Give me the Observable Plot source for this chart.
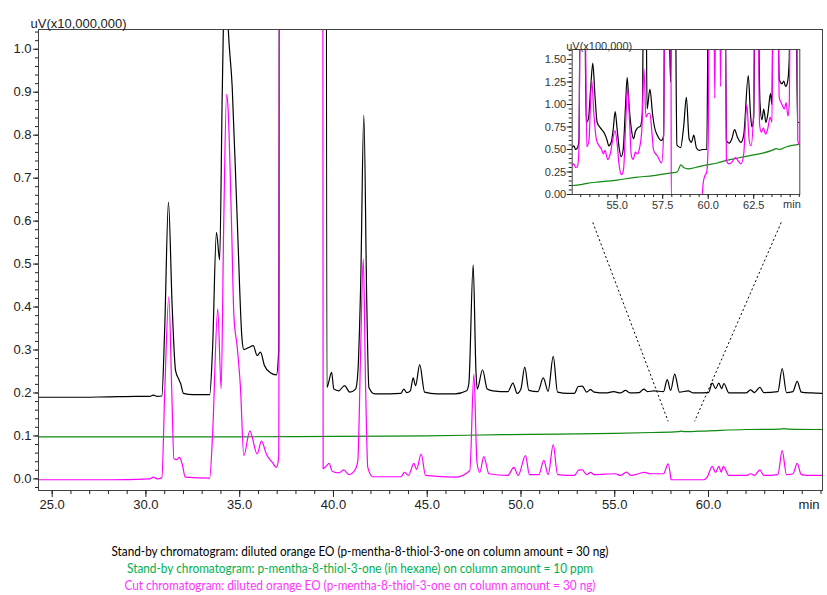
<!DOCTYPE html>
<html>
<head>
<meta charset="utf-8">
<script src="https://cdn.jsdelivr.net/npm/d3@7"></script>
<script src="https://cdn.jsdelivr.net/npm/@observablehq/plot@0.6"></script>
<style>
  html, body { margin: 0; padding: 0; background: #fff; }
  #wrap { position: relative; width: 827px; height: 595px; overflow: hidden; }
  #main { position: absolute; left: 0; top: 0; }
  #inset { position: absolute; left: 530px; top: 30px; }
  #legend { position: absolute; left: 0; top: 512px; }
</style>
</head>
<body>
<div id="wrap"><div id="main"></div><div id="inset"></div><div id="legend"></div></div>
<script>
// ---------- DATA (retention time [min], signal) ----------
// Main chart, signal in uV x 10,000,000
const standbyEO = [
  [24.27,0.190],[26,0.190],[28,0.191],[29.5,0.192],[30.2,0.192],[30.4,0.195],[30.6,0.192],[30.85,0.193],
  [31.0,0.35],[31.2,0.644],[31.4,0.40],[31.58,0.252],[31.75,0.232],[31.85,0.222],[32.0,0.199],[32.5,0.196],
  [33.4,0.196],[33.55,0.30],[33.76,0.574],[33.93,0.51],[34.07,0.9],[34.25,1.25],[34.36,1.08],[34.6,0.912],
  [34.87,0.601],[35.13,0.322],[35.22,0.301],[35.49,0.306],[35.72,0.31],[35.93,0.287],[36.11,0.295],[36.32,0.264],
  [36.64,0.247],[36.96,0.242],[37.08,0.30],[37.2,5],[39.55,5],[39.65,0.213],[39.9,0.248],[40.02,0.209],
  [40.28,0.205],[40.59,0.217],[40.87,0.202],[41.18,0.209],[41.3,0.247],[41.45,0.45],[41.62,0.847],[41.78,0.40],
  [41.89,0.213],[42.2,0.198],[43.0,0.198],[43.6,0.199],[43.75,0.209],[43.9,0.201],[44.1,0.205],[44.25,0.235],
  [44.38,0.217],[44.6,0.266],[44.86,0.202],[45.5,0.198],[46.5,0.198],[47.1,0.205],[47.22,0.222],[47.45,0.498],
  [47.6,0.25],[47.67,0.209],[47.95,0.254],[48.2,0.209],[48.5,0.205],[49.3,0.203],[49.57,0.223],[49.8,0.199],
  [50.0,0.21],[50.2,0.26],[50.42,0.206],[50.9,0.203],[51.19,0.235],[51.45,0.204],[51.72,0.285],[51.95,0.202],
  [52.5,0.199],[52.85,0.199],[53.05,0.215],[53.27,0.216],[53.5,0.202],[53.71,0.208],[53.9,0.202],[54.5,0.200],
  [54.95,0.203],[55.3,0.2],[55.58,0.206],[55.8,0.2],[56.3,0.201],[56.55,0.209],[56.75,0.203],[57.09,0.205],
  [57.6,0.203],[57.8,0.231],[57.98,0.206],[58.2,0.244],[58.45,0.202],[58.92,0.205],[59.2,0.2],[60.0,0.201],
  [60.2,0.223],[60.38,0.21],[60.55,0.223],[60.7,0.21],[60.82,0.222],[61.09,0.2],[62.0,0.2],[62.24,0.207],
  [62.45,0.201],[62.74,0.213],[62.95,0.201],[63.7,0.203],[63.93,0.257],[64.16,0.201],[64.5,0.203],[64.73,0.227],
  [64.95,0.202],[65.5,0.2],[66.08,0.199]
];
const standbyStd = [
  [24.27,0.098],[30,0.098],[35,0.098],[40,0.099],[45,0.100],[49,0.103],[52,0.104],[55,0.106],[57,0.108],
  [58.4,0.110],[58.55,0.111],[58.7,0.110],[60,0.112],[62,0.115],[63.8,0.116],[64,0.117],[64.3,0.116],[66.08,0.115]
];
const cutEO = [
  [24.27,-0.002],[28,-0.002],[30.2,0.0],[30.4,0.004],[30.6,0.0],[30.85,0.003],[31.0,0.2],[31.22,0.424],
  [31.38,0.2],[31.49,0.047],[31.65,0.045],[31.79,0.05],[31.93,0.035],[32.1,0.004],[33.4,0.002],[33.55,0.1],
  [33.83,0.396],[34.01,0.21],[34.15,0.6],[34.3,0.895],[34.37,0.869],[34.56,0.601],[34.69,0.38],[34.87,0.306],
  [35.04,0.213],[35.22,0.054],[35.54,0.112],[35.93,0.058],[36.16,0.088],[36.43,0.057],[36.73,0.039],[36.96,0.027],
  [37.08,0.05],[37.2,5],[39.38,5],[39.45,0.024],[39.62,0.03],[39.77,0.036],[39.93,0.018],[40.29,0.014],
  [40.55,0.021],[40.82,0.01],[41.18,0.023],[41.3,0.043],[41.45,0.3],[41.59,0.512],[41.72,0.2],[41.83,0.027],
  [42.1,0.005],[43.6,0.005],[43.79,0.015],[44.0,0.008],[44.29,0.036],[44.43,0.022],[44.68,0.058],[44.91,0.008],
  [46.5,0.004],[47.27,0.019],[47.49,0.244],[47.65,0.04],[47.8,0.015],[48.02,0.052],[48.29,0.012],[49.3,0.008],
  [49.62,0.027],[49.85,0.008],[50.24,0.054],[50.45,0.01],[50.95,0.01],[51.22,0.043],[51.45,0.01],[51.72,0.08],
  [51.95,0.01],[52.85,0.008],[53.09,0.021],[53.27,0.021],[53.5,0.01],[53.71,0.015],[53.9,0.01],[55.04,0.012],
  [55.3,0.008],[55.63,0.016],[55.85,0.008],[56.59,0.015],[56.9,0.012],[57.6,0.012],[57.85,0.035],[57.98,0.005],
  [58.0,-0.002],[59.75,-0.002],[59.93,0.004],[60.2,0.029],[60.38,0.015],[60.55,0.029],[60.68,0.016],[60.79,0.029],
  [61.09,0.008],[62.05,0.008],[62.24,0.012],[62.45,0.008],[62.74,0.021],[62.95,0.008],[63.7,0.01],[63.93,0.066],
  [64.16,0.01],[64.5,0.012],[64.73,0.036],[64.95,0.01],[65.5,0.008],[66.08,0.008]
];
// Inset, signal in uV x 100,000
const insetEO = [
  [52.5,0.52],[52.62,0.54],[52.72,0.50],[52.82,0.52],[52.9,0.6],[52.98,2.5],[53.2,2.5],[53.3,0.80],[53.42,0.84],
  [53.55,1.2],[53.66,1.46],[53.78,1.1],[53.9,0.80],[54.08,0.74],[54.3,0.68],[54.45,0.6],[54.54,0.54],[54.67,0.58],
  [54.78,0.72],[54.89,0.92],[55.0,0.72],[55.12,0.50],[55.22,0.42],[55.33,0.5],[55.45,0.95],[55.55,1.30],[55.65,1.0],
  [55.77,0.74],[55.9,0.62],[56.0,0.70],[56.12,0.74],[56.28,0.76],[56.38,0.9],[56.46,2.5],[56.58,2.5],[56.64,0.95],
  [56.8,1.17],[56.94,0.9],[57.05,0.75],[57.2,0.66],[57.42,0.6],[57.55,0.65],[57.62,2.5],[57.8,2.5],[57.93,1.25],
  [58.02,2.5],[58.18,2.5],[58.28,0.55],[58.48,0.52],[58.65,0.75],[58.8,1.08],[58.95,0.62],[59.08,0.58],[59.21,0.66],
  [59.35,0.52],[59.5,0.49],[59.7,0.5],[59.92,0.5],[60.02,2.5],[60.92,2.5],[61.0,0.6],[61.15,0.57],[61.3,0.62],
  [61.45,0.72],[61.6,0.64],[61.8,0.58],[61.95,0.66],[62.2,1.32],[62.32,0.9],[62.4,0.75],[62.5,0.86],[62.58,2.5],
  [62.72,2.5],[62.84,1.03],[62.95,0.83],[63.05,0.95],[63.17,0.8],[63.28,0.9],[63.42,1.12],[63.5,1.0],[63.57,2.5],
  [63.8,2.5],[63.9,1.28],[64.05,1.23],[64.15,1.26],[64.25,1.2],[64.35,1.24],[64.45,1.5],[64.5,2.5],[64.82,2.5],
  [64.9,0.8],[65.05,0.8]
];
const insetStd = [
  [52.5,0.10],[53,0.11],[53.35,0.124],[54,0.14],[55,0.16],[56,0.19],[57,0.21],[57.97,0.24],[58.3,0.25],[58.5,0.33],
  [58.65,0.30],[58.9,0.285],[59.3,0.30],[59.94,0.33],[60.5,0.35],[61,0.38],[61.5,0.40],[62,0.42],[62.5,0.44],
  [63,0.46],[63.5,0.49],[63.75,0.51],[63.9,0.50],[64.3,0.53],[65.05,0.56]
];
const insetCut = [
  [52.5,0.32],[52.62,0.34],[52.72,0.30],[52.82,0.31],[52.9,0.5],[52.98,2.5],[53.22,2.5],[53.33,0.53],[53.45,0.6],
  [53.6,1.27],[53.72,0.9],[53.85,0.62],[53.95,0.56],[54.12,0.51],[54.25,0.45],[54.33,0.49],[54.48,0.39],[54.62,0.45],
  [54.75,0.6],[54.88,0.71],[55.0,0.56],[55.1,0.34],[55.24,0.22],[55.35,0.28],[55.47,0.8],[55.57,1.19],[55.67,0.86],
  [55.78,0.43],[55.88,0.39],[56.0,0.47],[56.12,0.45],[56.22,0.51],[56.35,0.71],[56.47,1.4],[56.58,0.86],[56.7,0.9],
  [56.8,0.9],[56.9,0.71],[57.0,0.49],[57.2,0.43],[57.44,0.35],[57.55,0.67],[57.62,2.5],[57.88,2.5],[57.96,1.25],
  [57.97,0],[59.67,0],[59.72,0.12],[59.8,0.2],[59.92,0.25],[60.0,0.6],[60.06,2.5],[60.3,2.5],[60.36,1.07],[60.42,2.5],
  [60.62,2.5],[60.68,1.2],[60.74,2.5],[60.92,2.5],[61.0,0.37],[61.15,0.34],[61.3,0.36],[61.5,0.41],[61.62,0.38],
  [61.8,0.34],[61.95,0.45],[62.12,1.0],[62.25,0.6],[62.35,0.54],[62.48,0.85],[62.58,2.5],[62.72,2.5],[62.82,0.78],
  [62.92,0.69],[63.03,0.74],[63.15,0.67],[63.27,0.73],[63.4,0.86],[63.5,0.8],[63.57,2.5],[63.82,2.5],[63.9,1.08],
  [64.05,1.0],[64.18,0.95],[64.28,1.02],[64.38,0.87],[64.45,1.0],[64.52,2.5],[64.85,2.5],[64.92,0.6],[65.05,0.53]
];
// zoom guide lines (main-chart data units)
const zoomGuides = [
  {x1: 53.83, y1: 0.597, x2: 57.85, y2: 0.134},
  {x1: 63.88, y1: 0.597, x2: 59.26, y2: 0.134}
];
// ticks and labels
const mainXTicks = [25, 30, 35, 40, 45, 50, 55, 60];
const mainXMinor = d3.range(25, 66.5, 1);
const mainYTicks = [0, 0.1, 0.2, 0.3, 0.4, 0.5, 0.6, 0.7, 0.8, 0.9, 1.0];
const mainYMinor = d3.range(-0.02, 1.05, 0.02);
const insetXTicks = [55, 57.5, 60, 62.5];
const insetXMinor = d3.range(53, 65.01, 0.5);
const insetYTicks = [0, 0.25, 0.5, 0.75, 1.0, 1.25, 1.5];
const insetYMinor = d3.range(0, 1.61, 0.05);
const mainYLabel = "uV(x10,000,000)";
const insetYLabel = "uV(x100,000)";
const xUnit = "min";
const legendLines = [
  {text: "Stand-by chromatogram: diluted orange EO (p-mentha-8-thiol-3-one on column amount = 30 ng)", color: "#000000", len: 497},
  {text: "Stand-by chromatogram: p-mentha-8-thiol-3-one (in hexane) on column amount = 10 ppm", color: "#00b050", len: 466},
  {text: "Cut chromatogram: diluted orange EO (p-mentha-8-thiol-3-one on column amount = 30 ng)", color: "#ff33ff", len: 471}
];
const colors = {eo: "#000000", std: "#108a10", cut: "#ff00ff"};

const X = d => d[0], Y = d => d[1];
const noLabel = () => "";

// ---------- MAIN CHART ----------
const main = Plot.plot({
  width: 827, height: 512,
  marginLeft: 38, marginRight: 5, marginTop: 29, marginBottom: 22,
  style: {fontFamily: "'Liberation Sans', Arial, sans-serif", fontSize: "13px", color: "#222", background: "#fff"},
  x: {domain: [24.27, 66.08]},
  y: {domain: [-0.027, 1.046]},
  marks: [
    Plot.line(standbyEO, {x: X, y: Y, stroke: colors.eo, strokeWidth: 1.2, curve: "monotone-x", clip: true}),
    Plot.line(standbyStd, {x: X, y: Y, stroke: colors.std, strokeWidth: 1.2, curve: "monotone-x", clip: true}),
    Plot.line(cutEO, {x: X, y: Y, stroke: colors.cut, strokeWidth: 1.2, curve: "monotone-x", clip: true}),
    Plot.link(zoomGuides, {x1: "x1", y1: "y1", x2: "x2", y2: "y2", stroke: "#000", strokeWidth: 1, strokeDasharray: "2,2.5"}),
    Plot.frame({stroke: "#444", strokeWidth: 1}),
    Plot.axisX({ticks: mainXMinor, tickSize: 4, tickFormat: noLabel, label: null, stroke: "#222"}),
    Plot.axisX({ticks: mainXTicks, tickSize: 7, tickPadding: 2, tickFormat: d3.format(".1f"), label: null, stroke: "#222"}),
    Plot.axisY({ticks: mainYMinor, tickSize: 3, tickFormat: noLabel, label: null, stroke: "#222"}),
    Plot.axisY({ticks: mainYTicks, tickSize: 5, tickPadding: 2, tickFormat: d3.format(".1f"), label: null, stroke: "#222"}),
    Plot.text([xUnit], {frameAnchor: "bottom-right", textAnchor: "end", lineAnchor: "top", dx: -3, dy: 9, fill: "#222"}),
    Plot.text([mainYLabel], {frameAnchor: "top-left", textAnchor: "start", lineAnchor: "bottom", dx: -8, dy: -2, fill: "#222"})
  ]
});
document.getElementById("main").appendChild(main);

// ---------- INSET ----------
const inset = Plot.plot({
  width: 285, height: 185,
  marginLeft: 41.7, marginRight: 15.7, marginTop: 19, marginBottom: 21,
  style: {fontFamily: "'Liberation Sans', Arial, sans-serif", fontSize: "11px", color: "#333", background: "#fff"},
  x: {domain: [52.53, 65.03]},
  y: {domain: [0, 1.611]},
  marks: [
    Plot.line(insetEO, {x: X, y: Y, stroke: colors.eo, strokeWidth: 1.2, curve: "monotone-x", clip: true}),
    Plot.line(insetStd, {x: X, y: Y, stroke: colors.std, strokeWidth: 1.2, curve: "monotone-x", clip: true}),
    Plot.line(insetCut, {x: X, y: Y, stroke: colors.cut, strokeWidth: 1.2, curve: "monotone-x", clip: true}),
    Plot.frame({stroke: "#444", strokeWidth: 1}),
    Plot.axisX({ticks: insetXMinor, tickSize: 3, tickFormat: noLabel, label: null, stroke: "#222"}),
    Plot.axisX({ticks: insetXTicks, tickSize: 5, tickPadding: 2, tickFormat: d3.format(".1f"), label: null, stroke: "#222"}),
    Plot.axisY({ticks: insetYMinor, tickSize: 3, tickFormat: noLabel, label: null, stroke: "#222"}),
    Plot.axisY({ticks: insetYTicks, tickSize: 5, tickPadding: 1, tickFormat: d3.format(".2f"), label: null, stroke: "#222"}),
    Plot.text([xUnit], {frameAnchor: "bottom-right", textAnchor: "end", lineAnchor: "top", dx: 1, dy: 6, fill: "#333"}),
    Plot.text([insetYLabel], {frameAnchor: "top-left", textAnchor: "start", lineAnchor: "bottom", dx: -6, dy: 0, fill: "#333"})
  ]
});
document.getElementById("inset").appendChild(inset);

// ---------- LEGEND (caption below) ----------
const ns = "http://www.w3.org/2000/svg";
const leg = document.createElementNS(ns, "svg");
leg.setAttribute("width", 827); leg.setAttribute("height", 83);
const yCenters = [40, 57, 74];
legendLines.forEach((l, i) => {
  const t = document.createElementNS(ns, "text");
  t.setAttribute("x", 360); t.setAttribute("y", yCenters[i]);
  t.setAttribute("text-anchor", "middle"); t.setAttribute("dominant-baseline", "middle");
  t.setAttribute("fill", l.color);
  t.setAttribute("font-family", "Lato, 'Open Sans', sans-serif");
  t.setAttribute("font-size", "14");
  t.setAttribute("textLength", l.len); t.setAttribute("lengthAdjust", "spacingAndGlyphs");
  t.textContent = l.text;
  leg.appendChild(t);
});
document.getElementById("legend").appendChild(leg);
</script>
</body>
</html>
